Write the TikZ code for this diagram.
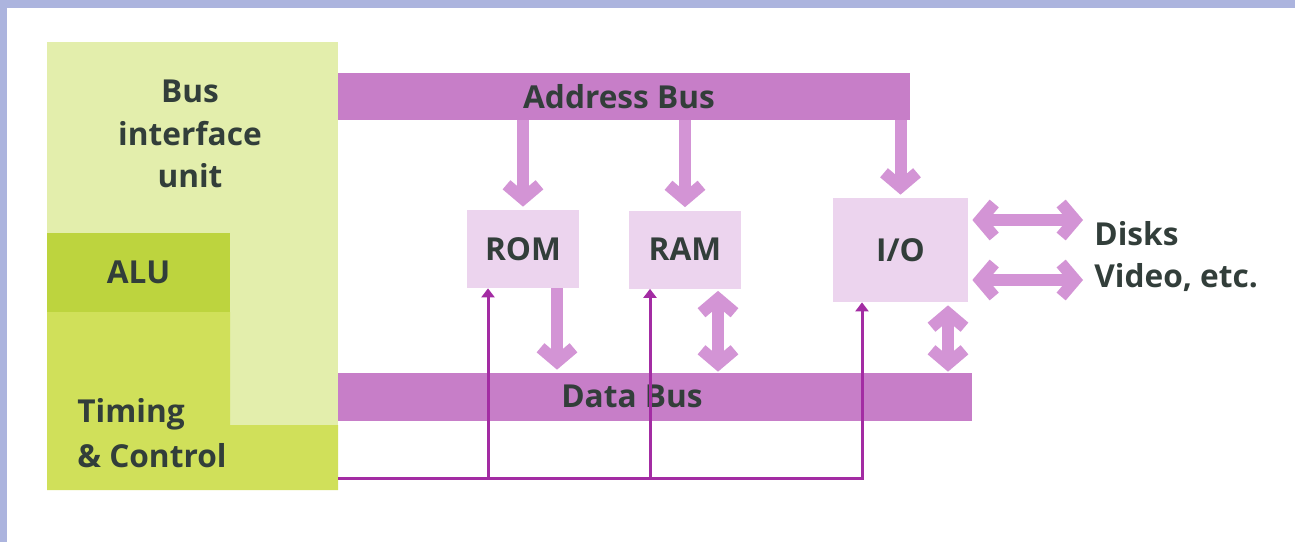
\documentclass[tikz,border=0pt]{standalone}
\usepackage{fontspec}
\setmainfont{Open Sans}
\usetikzlibrary{positioning}
\usetikzlibrary{arrows.meta}
\definecolor{framec}{RGB}{172,180,222}
\definecolor{biuc}{RGB}{227,238,172}
\definecolor{aluc}{RGB}{189,212,62}
\definecolor{tcc}{RGB}{208,224,90}
\definecolor{busc}{RGB}{199,126,200}
\definecolor{arrowc}{RGB}{211,148,213}
\definecolor{memc}{RGB}{236,212,238}
\definecolor{ctlc}{RGB}{163,44,163}
\definecolor{textc}{RGB}{50,62,58}
\newcommand{\lbl}{\fontsize{18}{24}\selectfont\bfseries}
\tikzset{
    busbar/.style = {rectangle, fill=busc, inner sep=0pt},
    membox/.style = {rectangle, fill=memc, text=textc, minimum width=22.4mm, minimum height=15.6mm, font=\lbl},
    lbl/.style = {text=textc, font=\lbl, inner sep=0pt},
    wide/.style = {line width=2.4mm, draw=arrowc, >={Straight Barb[length=2.8mm,width=6.6mm]}},
    ctlline/.style = {line width=0.6mm, draw=ctlc},
    ctlarrow/.style = {line width=0.6mm, draw=ctlc, -{Triangle[length=1.8mm,width=2.6mm]}},
}

\begin{document}
\begin{tikzpicture}[x=0.2mm, y=-0.2mm]
\useasboundingbox (0,0) rectangle (1295,542);
\fill[framec] (0,0) rectangle (1295,8);
\fill[framec] (0,0) rectangle (7,542);
% cpu
\fill[biuc] (47,42) rectangle (338,425);
\fill[tcc] (47,312) -- (230,312) -- (230,425) -- (338,425) -- (338,490) -- (47,490) -- cycle;
\node[lbl, align=center, anchor=north] at (190,80) (biu) {Bus\\interface\\unit};
\node[lbl, fill=aluc, minimum width=36.6mm, minimum height=15.8mm] at (138.5,272.5) (alu) {ALU};
\node[lbl, align=left, anchor=north west, font=\fontsize{18}{25.5}\selectfont\bfseries] at (77,398) (tc) {Timing\\\& Control};
% buses
\node[busbar, minimum width=114.4mm, minimum height=9.4mm] at (624,96.5) (abus) {};
\node[busbar, minimum width=126.8mm, minimum height=9.6mm] at (655,397) (dbus) {};
\node[lbl] at (619,97) (abuslbl) {Address Bus};
\node[lbl] at (632,396) (dbuslbl) {Data Bus};
% memory, io
\node[membox] at (523,249) (rom) {ROM};
\node[membox] at (685,249.5) (ram) {RAM};
\node[membox, minimum width=27mm, minimum height=20.8mm] at (900.5,250) (io) {I/O};
\node[lbl, anchor=base west] at (1094,245) (disks) {Disks};
\node[lbl, anchor=base west] at (1094,287) (video) {Video, etc.};
%
\coordinate (romout) at ([xshift=6.8mm]rom.south);
\coordinate (ramout) at ([xshift=6.6mm]ram.south);
\coordinate (ioout) at ([xshift=9.5mm]io.south);
\coordinate (iodisk) at ([yshift=6mm]io.east);
\coordinate (iovideo) at ([yshift=-6mm]io.east);
\draw[wide, ->, shorten >=0.6mm] (rom.north |- abus.south) -- (rom.north);
\draw[wide, ->, shorten >=0.6mm] (ram.north |- abus.south) -- (ram.north);
\draw[wide, ->, shorten >=0.6mm] (io.north |- abus.south) -- (io.north);
\draw[wide, ->, shorten >=0.6mm] (romout) -- (romout |- dbus.north);
\draw[wide, <->, shorten <=0.4mm, shorten >=0.2mm] (ramout) -- (ramout |- dbus.north);
\draw[wide, <->, shorten <=0.6mm, shorten >=0.2mm] (ioout) -- (ioout |- dbus.north);
\draw[wide, <->, shorten <=0.8mm, shorten >=2.2mm] (iodisk) -- (iodisk -| disks.west);
\draw[wide, <->, shorten <=0.8mm, shorten >=2.2mm] (iovideo) -- (iovideo -| disks.west);
% control lines
\coordinate (ctl) at (338,478);
\coordinate (romctl) at ([xshift=-7mm]rom.south);
\coordinate (ramctl) at ([xshift=-7mm]ram.south);
\coordinate (ioctl) at ([xshift=-7.7mm]io.south);
\draw[ctlarrow] (ctl) -| (ioctl);
\draw[ctlarrow] (romctl |- ctl) -- (romctl);
\draw[ctlarrow] (ramctl |- ctl) -- (ramctl);
\end{tikzpicture}
\end{document}
